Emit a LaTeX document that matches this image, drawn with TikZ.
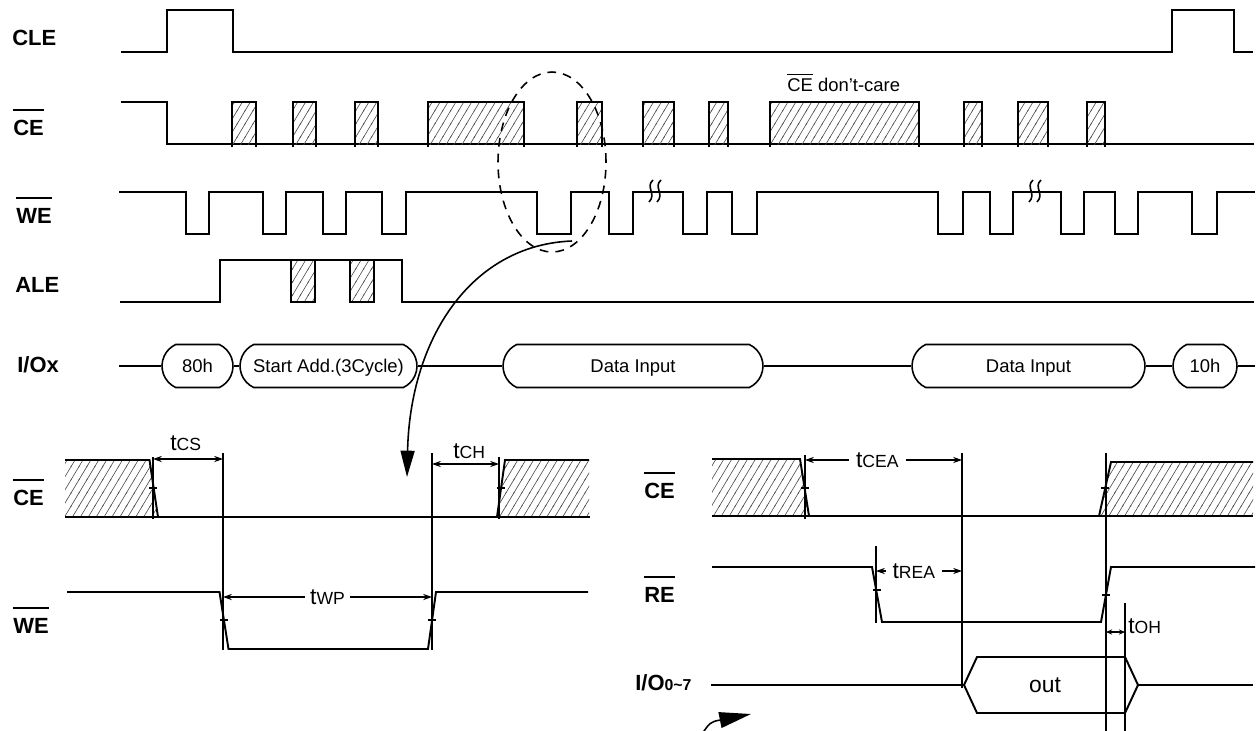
\documentclass[tikz,border=0pt]{standalone}
\usepackage{fontspec}
\setmainfont{Liberation Sans}
\usetikzlibrary{arrows.meta, positioning, shapes.misc, patterns}

\pgfdeclarepatternformonly{dchatch}{\pgfqpoint{-0.5pt}{-0.5pt}}{\pgfqpoint{5pt}{8pt}}{\pgfqpoint{4.5pt}{7.5pt}}{%
  \pgfsetlinewidth{0.35pt}%
  \pgfpathmoveto{\pgfqpoint{-0.3pt}{-0.5pt}}%
  \pgfpathlineto{\pgfqpoint{4.8pt}{8pt}}%
  \pgfusepath{stroke}}

\newcommand{\ovl}[1]{\vbox{\hrule height 1.1pt\kern 5pt\hbox{#1}}}
\newcommand{\ovls}[1]{\vbox{\hrule height 0.5pt\kern 1.8pt\hbox{#1}}}
\newcommand{\tsub}[1]{{\fontsize{13}{13}\selectfont t}{\fontsize{10}{10}\selectfont #1}}

\begin{document}
\begin{tikzpicture}[x=0.02cm, y=-0.02cm,
    sig/.style={line width=1.1pt},
    guide/.style={line width=0.6pt},
    lbl/.style={anchor=base west, inner sep=0pt, font=\fontsize{12.5}{13}\selectfont\bfseries},
    tlbl/.style={anchor=base west, inner sep=0pt},
    bubble/.style={draw, line width=0.9pt, rounded rectangle, rounded rectangle arc length=130,
        minimum height=0.86cm, inner sep=0pt, text depth=0pt, font=\fontsize{10.5}{11}\selectfont},
    hatch/.style={pattern=dchatch, pattern color=black!70},
    dim/.style={guide, {Stealth[length=5pt,width=3.5pt]}-{Stealth[length=5pt,width=3.5pt]}},
    gap/.style={fill=white, inner ysep=1pt, inner xsep=3pt}]
    \useasboundingbox (0,0) rectangle (1256,730);

    \node[lbl] (cle) at (12,45) {CLE};
    \node[lbl] (ce) at (13,135) {\ovl{CE}};
    \node[lbl] (we) at (16,223) {\ovl{WE}};
    \node[lbl] (ale) at (15,292) {ALE};
    \node[lbl] (iox) at (17,372) {I/Ox};

    \draw[sig] (121,52) -- (167,52) -- (167,10) -- (233,10) -- (233,52) -- (1172,52)
        -- (1172,10) -- (1234,10) -- (1234,52) -- (1253,52);

    \draw[sig] (121,102) -- (167,102) -- (167,144) -- (1254,144);
    \foreach \a/\b in {232/256, 293/316, 355/378, 428/524, 577/602, 643/674, 709/728,
        770/919, 964/982, 1018/1048, 1087/1105} {
        \fill[hatch] (\a,102) rectangle (\b,144);
        \draw[sig] (\a,147) -- (\a,102) -- (\b,102) -- (\b,147);
    }
    \node[tlbl, font=\fontsize{10.5}{11}\selectfont] (dontcare) at (787,91) {\ovls{CE} don’t-care};

    \draw[sig] (119,192) \foreach \f/\r in {186/209, 263/286, 323/346, 382/406, 537/571,
        609/633, 683/707, 732/757, 938/963, 990/1013, 1061/1084, 1115/1138, 1192/1217} {
        -- (\f,192) -- (\f,234) -- (\r,234) -- (\r,192) } -- (1255,192);
    \foreach \x in {651, 659, 1031, 1039}
        \draw[line width=0.9pt] ({\x+2},180) .. controls ({\x-6},187) and ({\x+6},194) .. ({\x-2},202);

    \draw[sig] (120,302) -- (220,302) -- (220,260) -- (402,260) -- (402,302) -- (1254,302);
    \foreach \a/\b in {291/315, 350/374} {
        \fill[hatch] (\a,260) rectangle (\b,302);
        \draw[sig] (\a,260) rectangle (\b,302);
    }

    \node[bubble, minimum width=1.42cm] (b80) at (197.5,366) {80h};
    \node[bubble, minimum width=3.54cm] (badd) at (328.5,366) {Start Add.(3Cycle)};
    \node[bubble, minimum width=5.2cm] (bdin1) at (633,366) {Data Input};
    \node[bubble, minimum width=4.66cm] (bdin2) at (1028.5,366) {Data Input};
    \node[bubble, minimum width=1.28cm] (b10) at (1205,366) {10h};
    \coordinate (iobeg) at (119,366);
    \coordinate (ioend) at (1255,366);
    \draw[sig] (iobeg) -- (b80.west);
    \draw[sig] (b80.east) -- (badd.west);
    \draw[sig] (badd.east) -- (bdin1.west);
    \draw[sig] (bdin1.east) -- (bdin2.west);
    \draw[sig] (bdin2.east) -- (b10.west);
    \draw[sig] (b10.east) -- (ioend);

    \draw[line width=0.9pt, dash pattern=on 5pt off 4pt] (552,162) ellipse [x radius=1.08cm, y radius=1.8cm];
    \coordinate (zsrc) at (572,241);
    \coordinate (zdst) at (407,477);
    \draw[line width=0.9pt, -{Triangle[length=15pt,width=8pt]}] (zsrc) .. controls (470,245) and (410,340) .. (zdst);

    % write cycle detail
    \node[lbl] (ce2) at (13,505) {\ovl{CE}};
    \node[lbl] (we2) at (13,633) {\ovl{WE}};
    \fill[hatch] (65,460) -- (149.5,460) -- (158,517) -- (65,517) -- cycle;
    \draw[sig] (65,460) -- (149.5,460) -- (158,517);
    \fill[hatch] (497,517) -- (505,460) -- (589,460) -- (589,517) -- cycle;
    \draw[sig] (497,517) -- (505,460) -- (589,460);
    \draw[sig] (65,517) -- (590,517);
    \draw[sig] (67,592) -- (219.5,592) -- (228.5,649) -- (428,649) -- (436,592) -- (588,592);
    \draw[guide] (153,457) -- (153,519);
    \draw[guide] (223,453) -- (223,650);
    \draw[guide] (432,453) -- (432,650);
    \draw[guide] (499,457) -- (499,519);
    \draw[dim] (153,459) -- (223,459);
    \draw[dim] (432,464) -- (499,464);
    \draw[dim] (223,597) -- (432,597) node[midway, gap] (twp) {\tsub{WP}};
    \node[tlbl] (tcs) at (170,450) {\tsub{CS}};
    \node[tlbl] (tch) at (453,458) {\tsub{CH}};

    % read cycle detail
    \node[lbl] (ce3) at (644,498) {\ovl{CE}};
    \node[lbl] (re3) at (644,602) {\ovl{RE}};
    \node[lbl] (io3) at (635,690) {I/O{\fontsize{9}{9}\selectfont 0\textasciitilde 7}};
    \fill[hatch] (712,459) -- (800,459) -- (809,516) -- (712,516) -- cycle;
    \draw[sig] (712,459) -- (800,459) -- (809,516);
    \fill[hatch] (1099,516) -- (1111,462) -- (1253,462) -- (1253,516) -- cycle;
    \draw[sig] (1099,516) -- (1111,462) -- (1253,462);
    \draw[sig] (712,516) -- (1253,516);
    \draw[sig] (712,567) -- (872,567) -- (882,622) -- (1101,622) -- (1111,567) -- (1255,567);
    \draw[guide] (805,455) -- (805,519);
    \draw[guide] (876,546) -- (876,623);
    \draw[guide] (962,453) -- (962,688);
    \draw[guide] (1106,453) -- (1106,735);
    \draw[guide] (1125,603) -- (1125,735);
    \draw[dim] (805,460) -- (962,460) node[pos=0.46, gap, inner xsep=4pt] (tcea) {\tsub{CEA}};
    \draw[dim] (876,571) -- (962,571) node[pos=0.44, gap, inner xsep=4pt] (trea) {\tsub{REA}};
    \draw[guide, {Stealth[length=3.5pt,width=3pt]}-{Stealth[length=3.5pt,width=3pt]}] (1106,632) -- (1125,632);
    \node[tlbl] (toh) at (1128,633) {\tsub{OH}};
    \draw[sig] (711,685) -- (964,685);
    \draw[sig] (964,685) -- (977,657) -- (1125,657) -- (1138,685) -- (1125,713) -- (977,713) -- cycle;
    \draw[sig] (1138,685) -- (1253,685);
    \node[font=\fontsize{13}{13}\selectfont] (out) at (1045,685) {out};

    \foreach \x/\y in {153/488, 501/488, 224/620, 432/620, 805/488, 1105/488, 877/590, 1106/595}
        \draw[guide] ({\x-4},\y) -- ({\x+4},\y);

    \coordinate (nsrc) at (700,737);
    \coordinate (ndst) at (751,714);
    \draw[line width=0.9pt, -{Triangle[length=18pt,width=9pt]}] (nsrc) .. controls (710,722) .. (ndst);
\end{tikzpicture}
\end{document}
